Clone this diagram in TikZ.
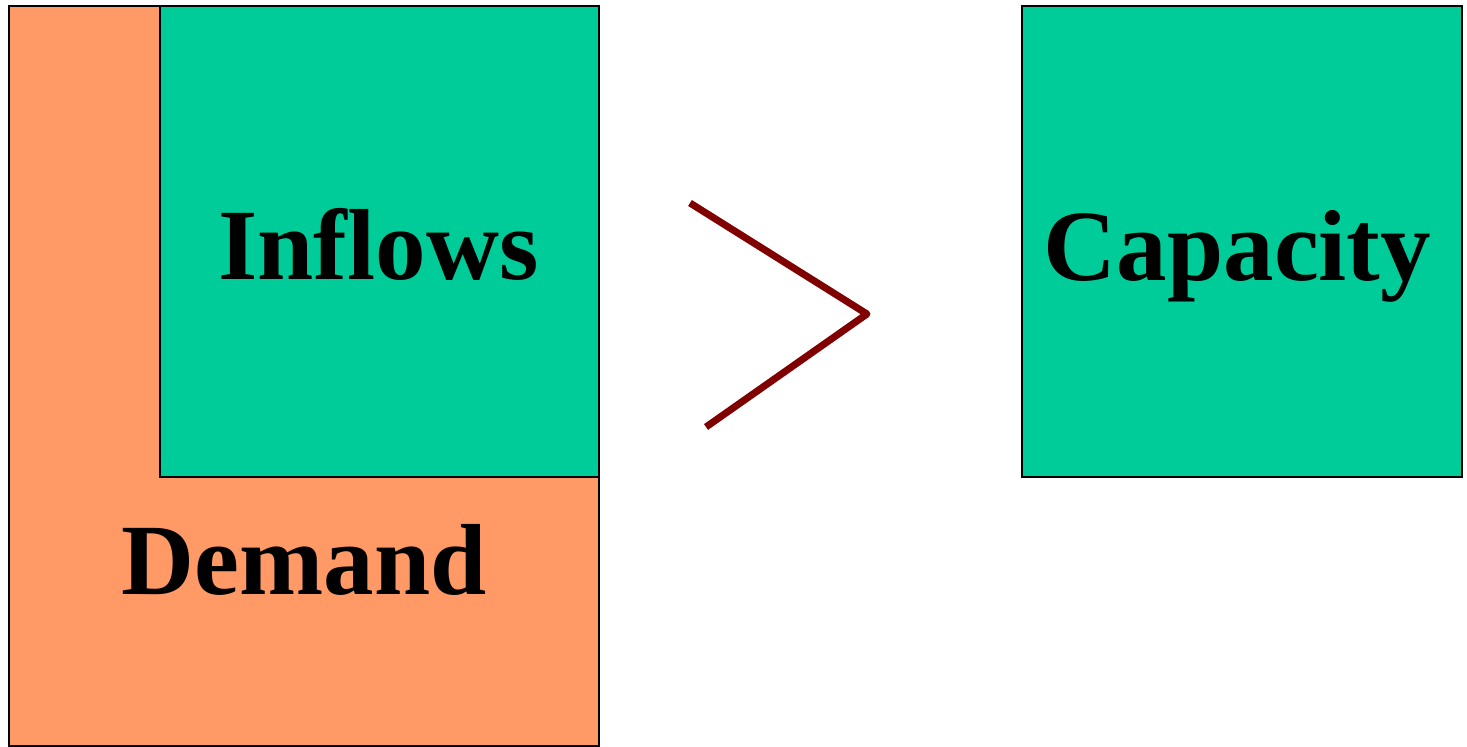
\documentclass[tikz,border=0pt]{standalone}
\usepackage{fontspec}
\setmainfont{Liberation Serif}
\usepackage{tikz}
\usetikzlibrary{positioning}
\definecolor{demandorange}{HTML}{FF9966}
\definecolor{flowgreen}{HTML}{00CC99}
\definecolor{gtred}{HTML}{800000}

\begin{document}
\begin{tikzpicture}[
    x=0.02cm, y=-0.02cm,
    blockbox/.style={draw=black, line width=1.1pt},
    bigword/.style={font=\fontsize{57.5}{62}\selectfont\bfseries, inner sep=0pt, anchor=base}
]
\useasboundingbox (0,0) rectangle (1467,747);

% Demand block with inflows inside
\draw[blockbox, fill=demandorange] (9,6) rectangle (599,746);
\draw[blockbox, fill=flowgreen] (160,6) rectangle (599,477);

% Capacity block
\draw[blockbox, fill=flowgreen] (1022,6) rectangle (1462,477);

% Labels
\node[bigword] (inflows) at (378.5,279) {Inflows};
\node[bigword] (demand) at (304,594) {Demand};
\node[bigword] (capacity) at (1237.5,280) {Capacity};

% Greater-than sign
\coordinate (gttop) at (690,203);
\coordinate (gttip) at (867,314);
\coordinate (gtbot) at (706,427);
\draw[gtred, line width=4pt, line join=round] (gttop) -- (gttip) -- (gtbot);
\end{tikzpicture}
\end{document}
